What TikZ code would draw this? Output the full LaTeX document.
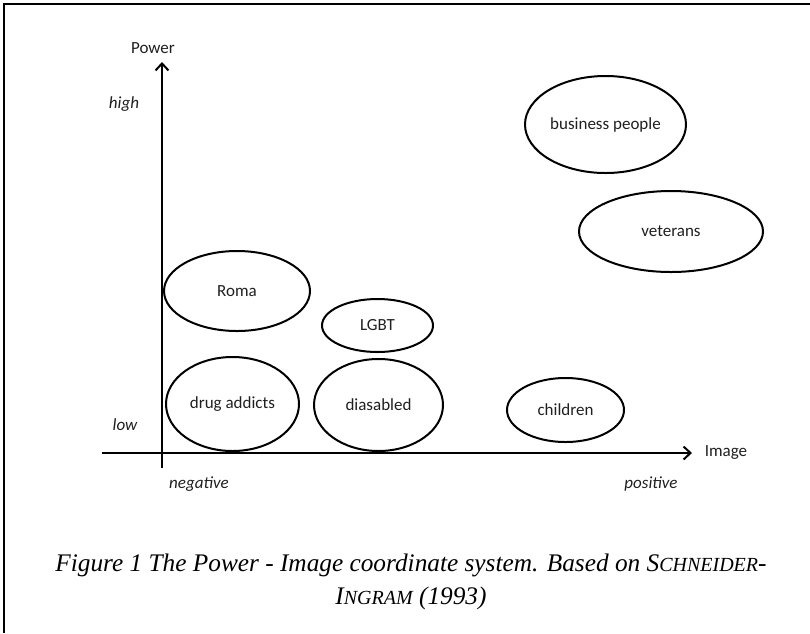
\documentclass[tikz,border=0pt]{standalone}
\usepackage{fontspec}
\usetikzlibrary{shapes.geometric,arrows.meta}
\newfontfamily\labelfont{Carlito}
\newfontfamily\capfont{Liberation Serif}
\begin{document}
\begin{tikzpicture}[x=1pt,y=-1pt,
  frameline/.style={line width=2pt},
  axis/.style={line width=2pt},
  axisarrow/.style={axis,-{Straight Barb[length=7pt,width=13pt,line width=2pt]}},
  grp/.style={draw,ellipse,line width=2pt,inner sep=0pt,outer sep=0pt,
              font=\labelfont\fontsize{17}{18}\selectfont,text=black!88},
  axlabel/.style={font=\labelfont\fontsize{17}{18}\selectfont,text=black!88,inner sep=0pt},
  axend/.style={font=\labelfont\itshape\fontsize{17}{18}\selectfont,text=black!88,inner sep=0pt},
  caption/.style={font=\capfont\itshape\fontsize{25.3}{33}\selectfont,align=center,inner sep=0pt}]
  \useasboundingbox (0,0) rectangle (810,633);

  % open frame: top and left rules
  \coordinate (ftl) at (4,4);
  \coordinate (ftr) at (810,4);
  \coordinate (fbl) at (4,633);
  \draw[frameline] (ftr) -- (ftl) -- (fbl);

  % axes
  \coordinate (ybot) at (162,468);
  \coordinate (ytop) at (162,62);
  \coordinate (xleft) at (102,453);
  \coordinate (xright) at (692,453);
  \draw[axisarrow] (ybot) -- (ytop);
  \draw[axisarrow] (xleft) -- (xright);

  % axis labels
  \node[axlabel] (power) at (153,48) {Power};
  \node[axlabel] (image) at (726,452) {Image};
  \node[axend] (high) at (124,104) {high};
  \node[axend] (low) at (125,425) {low};
  \node[axend] (neg) at (199,484) {negative};
  \node[axend] (pos) at (651,484) {positive};

  % target groups
  \node[grp,minimum width=161pt,minimum height=97pt] (business) at (605.5,124.5) {business people};
  \node[grp,minimum width=184pt,minimum height=81pt] (veterans) at (671,231.5) {veterans};
  \node[grp,minimum width=146pt,minimum height=80pt] (roma) at (237,291) {Roma};
  \node[grp,minimum width=111pt,minimum height=53pt] (lgbt) at (377.5,325.5) {LGBT};
  \node[grp,minimum width=133pt,minimum height=94pt] (drug) at (232.5,404) {drug addicts};
  \node[grp,minimum width=129pt,minimum height=92pt] (disabled) at (378.5,405) {diasabled};
  \node[grp,minimum width=117pt,minimum height=64pt] (children) at (565.5,410) {children};

  % caption
  \node[caption] (cap) at (411,582)
    {Figure 1 The Power - Image coordinate system. Based on S{\fontsize{20}{33}\selectfont CHNEIDER}-\\
     I{\fontsize{20}{33}\selectfont NGRAM} (1993)};
\end{tikzpicture}
\end{document}
